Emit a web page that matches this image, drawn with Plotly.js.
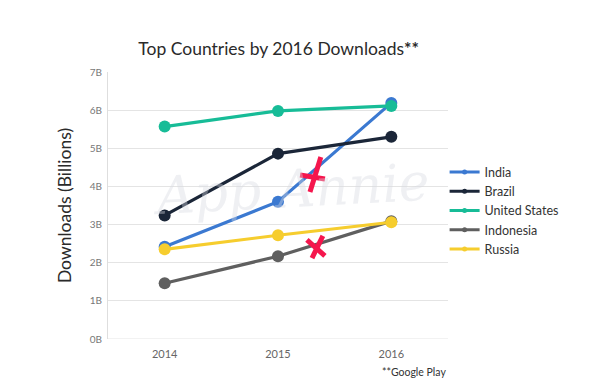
<!DOCTYPE html>
<html>
<head>
<meta charset="utf-8">
<script src="https://cdn.plot.ly/plotly-3.0.1.min.js"></script>
<style>html,body{margin:0;padding:0;background:#fff;}#chart{width:594px;height:390px;}</style>
</head>
<body>
<div id="chart"></div>
<script>
const years = ['2014', '2015', '2016'];
const india = [2.42, 3.60, 6.19];
const brazil = [3.24, 4.86, 5.30];
const unitedStates = [5.57, 5.98, 6.11];
const indonesia = [1.46, 2.17, 3.09];
const russia = [2.35, 2.72, 3.06];
const seriesNames = ['India', 'Brazil', 'United States', 'Indonesia', 'Russia'];
const seriesValues = [india, brazil, unitedStates, indonesia, russia];
const seriesColors = ['#3b79d1', '#1b2638', '#17bc97', '#5f5f5f', '#f6cd2e'];
const yTickVals = [0, 1, 2, 3, 4, 5, 6, 7];
const yTickText = ['0B', '1B', '2B', '3B', '4B', '5B', '6B', '7B'];

const traces = seriesNames.map((name, i) => ({
  type: 'scatter',
  mode: 'lines+markers',
  name: name,
  x: years,
  y: seriesValues[i],
  showlegend: false,
  line: {color: seriesColors[i], width: 3.2},
  marker: {color: seriesColors[i], size: 12}
}));
// legend entries with small markers, as in the reference
seriesNames.forEach((name, i) => traces.push({
  type: 'scatter',
  mode: 'lines+markers',
  name: name,
  x: [null], y: [null],
  showlegend: true,
  line: {color: seriesColors[i], width: 3},
  marker: {color: seriesColors[i], size: 5}
}));

const F = 'Lato, "Open Sans", sans-serif';
const red = '#f5164d';
function stroke(x0, y0, x1, y1) {
  return {type: 'line', xref: 'paper', yref: 'paper', x0: x0, y0: y0, x1: x1, y1: y1,
          line: {color: red, width: 5}, layer: 'above'};
}

const layout = {
  width: 594, height: 390,
  margin: {l: 108, r: 146, t: 72, b: 51},
  paper_bgcolor: '#fff', plot_bgcolor: '#fff',
  title: {text: 'Top Countries by 2016 Downloads<b>**</b>', font: {family: F, size: 17.5, color: '#2a2a2a'},
          x: 0.469, xanchor: 'center', y: 0.875, yanchor: 'middle'},
  font: {family: F},
  showlegend: true,
  legend: {x: 0.99, xanchor: 'left', y: 0.68, yanchor: 'top', font: {family: F, size: 12.5, color: '#333'},
           bgcolor: 'rgba(0,0,0,0)', tracegroupgap: 0},
  xaxis: {type: 'category', range: [-0.5, 2.5], showgrid: false, zeroline: false, showline: false,
          ticks: 'outside', ticklen: 5, tickcolor: 'rgba(0,0,0,0)',
          tickfont: {family: F, size: 11, color: '#666'}, fixedrange: true},
  yaxis: {range: [0, 7], tickvals: yTickVals, ticktext: yTickText, showgrid: true, gridcolor: '#e4e4e4', gridwidth: 1,
          zeroline: false, showline: true, linecolor: '#dedede', linewidth: 1,
          ticks: 'outside', ticklen: 3, tickcolor: 'rgba(0,0,0,0)',
          tickfont: {family: F, size: 10, color: '#777'},
          title: {text: 'Downloads (Billions)', font: {family: F, size: 17.5, color: '#2a2a2a'}, standoff: 13},
          fixedrange: true},
  shapes: [
    {type: 'line', xref: 'paper', yref: 'y', x0: 0, x1: 1, y0: 0, y1: 0, line: {color: '#e4e4e4', width: 1}, layer: 'below'},
    stroke(0.565, 0.614, 0.638, 0.599),
    stroke(0.626, 0.682, 0.594, 0.551),
    stroke(0.585, 0.371, 0.638, 0.311),
    stroke(0.632, 0.386, 0.600, 0.303)
  ],
  annotations: [
    {text: 'App Annie', xref: 'paper', yref: 'paper', x: 0.54, y: 0.56, showarrow: false,
     font: {family: '"DejaVu Serif", serif', size: 52, color: 'rgba(215,218,225,0.4)', style: 'italic'},
     textangle: -3},
    {text: '**Google Play', xref: 'paper', yref: 'paper', x: 1.0, xanchor: 'right', y: -0.125, yanchor: 'middle',
     showarrow: false, font: {family: F, size: 10.5, color: '#333'}}
  ]
};

Plotly.newPlot('chart', traces, layout, {displayModeBar: false, staticPlot: true});
</script>
</body>
</html>
